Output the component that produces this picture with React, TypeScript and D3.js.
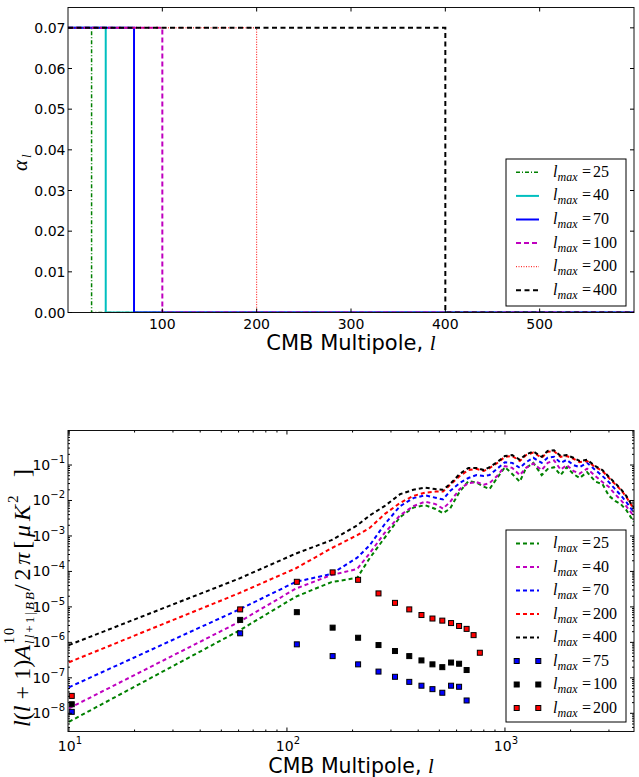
import React from "react";
import * as d3 from "d3";

// ---------- top panel data ----------
const TOP_LMAX = [25, 40, 70, 100, 200, 400];
const TOP_ALPHA = 0.07;
const TOP_L_END = 600;
const TOP_X_TICKS = [100, 200, 300, 400, 500];
const TOP_Y_TICKS = [0, 0.01, 0.02, 0.03, 0.04, 0.05, 0.06, 0.07];

// ---------- bottom panel data ----------
const ELL = [10, 60, 110, 160, 210, 240, 280, 330, 380, 430, 480, 520, 560, 620, 680, 740, 800, 850, 920, 1000, 1080, 1170, 1250, 1350, 1474, 1570, 1680, 1800, 1920, 2060, 2200, 2380, 2600, 2800, 3000, 3200, 3400, 3600, 3800, 3900];
const CURVE_LMAX = [25, 40, 70, 200, 400];
const C25 = [5.75e-9, 2.1e-6, 1.95e-5, 5.0e-5, 6.6e-5, 2.4e-4, 8.7e-4, 3.4e-3, 6.3e-3, 7.4e-3, 5.75e-3, 4.4e-3, 5.9e-3, 1.78e-2, 3.5e-2, 3.2e-2, 2.45e-2, 2.1e-2, 4.3e-2, 8.7e-2, 5.6e-2, 3.4e-2, 8.3e-2, 0.115, 5.2e-2, 7.7e-2, 8.7e-2, 5.2e-2, 8.7e-2, 5.6e-2, 4.3e-2, 6.3e-2, 3.4e-2, 2.9e-2, 1.35e-2, 9.8e-3, 7.9e-3, 5.4e-3, 3.2e-3, 2.5e-3];
const C40 = [1.38e-8, 3.7e-6, 3.3e-5, 7.9e-5, 1.17e-4, 3.3e-4, 1.2e-3, 3.8e-3, 6.9e-3, 9.3e-3, 7.9e-3, 5.9e-3, 9.1e-3, 2.1e-2, 3.1e-2, 3.3e-2, 2.8e-2, 3.1e-2, 4.9e-2, 9.3e-2, 8.3e-2, 5.2e-2, 8.3e-2, 0.11, 7.2e-2, 0.115, 0.135, 7.4e-2, 0.10, 6.8e-2, 5.75e-2, 7.9e-2, 4.9e-2, 3.3e-2, 2.4e-2, 1.5e-2, 1.02e-2, 6.9e-3, 4.5e-3, 3.6e-3];
const C70 = [5.4e-8, 8.3e-6, 5.1e-5, 8.5e-5, 2.45e-4, 5.5e-4, 2.1e-3, 6.9e-3, 1.17e-2, 1.4e-2, 1.2e-2, 1.07e-2, 1.86e-2, 3.1e-2, 4.3e-2, 5.2e-2, 4.9e-2, 5.2e-2, 7.8e-2, 0.12, 0.115, 8.3e-2, 0.12, 0.16, 0.115, 0.16, 0.17, 0.115, 0.14, 0.10, 8.7e-2, 0.115, 7.2e-2, 4.9e-2, 3.3e-2, 2.1e-2, 1.4e-2, 9.1e-3, 5.75e-3, 4.7e-3];
const C200 = [2.75e-7, 2.4e-5, 1.23e-4, 4.5e-4, 1.05e-3, 1.7e-3, 4.1e-3, 8.5e-3, 1.35e-2, 1.66e-2, 1.78e-2, 1.78e-2, 2.75e-2, 4.9e-2, 7.2e-2, 7.8e-2, 6.8e-2, 8.2e-2, 0.113, 0.17, 0.18, 0.13, 0.19, 0.225, 0.16, 0.235, 0.245, 0.17, 0.18, 0.15, 0.12, 0.13, 8.7e-2, 6.8e-2, 4.3e-2, 2.9e-2, 2.0e-2, 1.27e-2, 7.4e-3, 5.9e-3];
const C400 = [8.4e-7, 6.2e-5, 3.2e-4, 7.6e-4, 2.0e-3, 3.8e-3, 6.9e-3, 1.5e-2, 2.0e-2, 2.3e-2, 2.1e-2, 2.0e-2, 2.9e-2, 5.6e-2, 8.3e-2, 8.3e-2, 7.2e-2, 8.7e-2, 0.12, 0.18, 0.19, 0.14, 0.20, 0.24, 0.17, 0.25, 0.26, 0.18, 0.19, 0.16, 0.13, 0.14, 9.3e-2, 7.2e-2, 4.6e-2, 3.1e-2, 2.1e-2, 1.35e-2, 7.9e-3, 6.3e-3];

const SC_L = [10.3, 61, 111, 162, 212, 263, 313, 364, 414, 465, 516, 566, 616, 667, 718, 767];
const SC_LMAX = [75, 100, 200];
const SC75 = [1.1e-8, 1.8e-6, 8.8e-7, 4.1e-7, 2.4e-7, 1.5e-7, 1.07e-7, 7.7e-8, 6.0e-8, 4.8e-8, 3.8e-8, 6.0e-8, 5.6e-8, 2.3e-8];
const SC100 = [1.8e-8, 4.3e-6, 7.1e-6, 2.6e-6, 1.35e-6, 8.4e-7, 5.7e-7, 4.1e-7, 3.1e-7, 2.4e-7, 2.0e-7, 2.7e-7, 2.5e-7, 1.66e-7];
const SC200 = [3.1e-8, 8.5e-6, 5.1e-5, 9.4e-5, 5.8e-5, 2.4e-5, 1.3e-5, 8.5e-6, 5.9e-6, 4.7e-6, 4.1e-6, 3.5e-6, 2.9e-6, 2.4e-6, 1.6e-6, 5.1e-7];

const BOT_X_MAJOR = [10, 100, 1000];
const BOT_Y_MAJOR = [1e-8, 1e-7, 1e-6, 1e-5, 1e-4, 1e-3, 1e-2, 1e-1];

const SANS = "'DejaVu Sans', sans-serif";
const SERIF = "'Liberation Serif', 'DejaVu Serif', serif";

function LmaxLabel({ x, y, value }: { x: number; y: number; value: number }) {
  return (
    <text x={x} y={y} fontFamily={SERIF} fontSize={16} fill="#000">
      <tspan fontStyle="italic">l</tspan>
      <tspan fontStyle="italic" fontSize={12} dy={4} x={x + 4.5}>max</tspan>
      <tspan dy={-4} x={x + 29}>=</tspan>
      <tspan x={x + 40}>{value}</tspan>
    </text>
  );
}

function supExp(v: number) {
  const e = Math.round(Math.log10(v));
  return e < 0 ? "\u2212" + Math.abs(e) : String(e);
}

export default function App() {
  // ---------- top panel ----------
  const tL = 68, tR = 634, tT = 7.5, tB = 312.5;
  const xT = d3.scaleLinear().domain([0, TOP_L_END]).range([tL, tR]);
  const yT = d3.scaleLinear().domain([0, 0.075]).range([tB, tT]);
  const lineT = d3.line<[number, number]>().x(d => xT(d[0])).y(d => yT(d[1]));
  const topStyles: Record<number, { c: string; w: number; dash?: string }> = {
    25: { c: "#008000", w: 1.5, dash: "4,2,1,2" },
    40: { c: "#00bfbf", w: 2 },
    70: { c: "#0000ff", w: 2 },
    100: { c: "#bf00bf", w: 2, dash: "5,3" },
    200: { c: "#ff0000", w: 1, dash: "1,1.5" },
    400: { c: "#000000", w: 2, dash: "5,3.5" },
  };

  // ---------- bottom panel ----------
  const bL = 68, bR = 634, bT = 430.5, bB = 731.5;
  const xB = d3.scaleLog().domain([9.9, 3908]).range([bL, bR]);
  const yB = d3.scaleLog().domain([3.07e-9, 0.94]).range([bB, bT]);
  const curves = [C25, C40, C70, C200, C400];
  const curveColors = ["#008000", "#bf00bf", "#0000ff", "#ff0000", "#000000"];
  const lineB = d3.line<[number, number]>().x(d => xB(d[0])).y(d => yB(d[1]));
  const scat = [SC75, SC100, SC200];
  const scatColors = ["#0000ff", "#000000", "#ff0000"];

  const xMinor: number[] = [];
  [10, 100, 1000].forEach(b => { for (let k = 2; k <= 9; k++) { const v = b * k; if (v <= 3908) xMinor.push(v); } });
  const yMinor: number[] = [];
  for (let e = -9; e <= -1; e++) for (let k = 2; k <= 9; k++) { const v = k * Math.pow(10, e); if (v >= 3.07e-9 && v <= 0.94) yMinor.push(v); }

  const topRows = [172.3, 195.9, 219.5, 243.1, 266.7, 290.3];
  const botRows = [543.5, 567, 590.5, 614, 637.5, 661, 684.5, 708];

  return (
    <svg width={639} height={777} style={{ position: "absolute", left: 0, top: 0, background: "#fff" }}>
      <defs>
        <clipPath id="clipTop"><rect x={tL} y={tT} width={tR - tL} height={tB - tT} /></clipPath>
        <clipPath id="clipBot"><rect x={bL} y={bT} width={bR - bL} height={bB - bT} /></clipPath>
      </defs>
      <rect x={0} y={0} width={639} height={777} fill="#fff" />

      {/* ================= TOP PANEL ================= */}
      <g clipPath="url(#clipTop)">
        {TOP_LMAX.map(lm => {
          const s = topStyles[lm];
          const pts: [number, number][] = [[0, TOP_ALPHA], [lm, TOP_ALPHA], [lm, 0], [TOP_L_END, 0]];
          return <path key={lm} d={lineT(pts) || ""} fill="none" stroke={s.c} strokeWidth={s.w} strokeDasharray={s.dash} />;
        })}
      </g>
      <rect x={tL} y={tT} width={tR - tL} height={tB - tT} fill="none" stroke="#111" strokeWidth={1} />
      {TOP_X_TICKS.map(t => (
        <g key={t}>
          <line x1={xT(t)} x2={xT(t)} y1={tB} y2={tB - 4} stroke="#000" />
          <line x1={xT(t)} x2={xT(t)} y1={tT} y2={tT + 4} stroke="#000" />
          <text x={xT(t)} y={329} textAnchor="middle" fontFamily={SANS} fontSize={14}>{t}</text>
        </g>
      ))}
      {TOP_Y_TICKS.map(t => (
        <g key={t}>
          <line x1={tL} x2={tL + 4} y1={yT(t)} y2={yT(t)} stroke="#000" />
          <line x1={tR} x2={tR - 4} y1={yT(t)} y2={yT(t)} stroke="#000" />
          <text x={65.5} y={yT(t) + 5} textAnchor="end" fontFamily={SANS} fontSize={14}>{t.toFixed(2)}</text>
        </g>
      ))}
      <text x={351} y={350} textAnchor="middle" fontFamily={SANS} fontSize={21}>
        CMB Multipole, <tspan fontFamily={SERIF} fontStyle="italic">l</tspan>
      </text>
      <g transform="translate(27,171) rotate(-90)">
        <text x={0} y={0} fontFamily={SERIF} fontStyle="italic" fontSize={21}>α</text>
        <text x={13} y={4} fontFamily={SERIF} fontStyle="italic" fontSize={13}>l</text>
      </g>
      {/* top legend */}
      <rect x={506} y={159} width={120} height={147} fill="#fff" stroke="#000" strokeWidth={1} />
      {TOP_LMAX.map((lm, i) => {
        const s = topStyles[lm];
        return (
          <g key={lm}>
            <line x1={516} x2={539} y1={topRows[i]} y2={topRows[i]} stroke={s.c} strokeWidth={s.w} strokeDasharray={s.dash} />
            <LmaxLabel x={553} y={topRows[i] + 4.5} value={lm} />
          </g>
        );
      })}

      {/* ================= BOTTOM PANEL ================= */}
      <g clipPath="url(#clipBot)">
        {curves.map((c, i) => (
          <path key={i} d={lineB(ELL.map((l, j) => [l, c[j]] as [number, number])) || ""} fill="none" stroke={curveColors[i]} strokeWidth={2} strokeDasharray="4,3" />
        ))}
      </g>
      {scat.map((s, i) => (
        <g key={i}>
          {s.map((v, j) => (
            <rect key={j} x={xB(SC_L[j]) - 2.5} y={yB(v) - 2.5} width={5} height={5} fill={scatColors[i]} stroke="#000" strokeWidth={1} />
          ))}
        </g>
      ))}
      <rect x={bL} y={bT} width={bR - bL} height={bB - bT} fill="none" stroke="#111" strokeWidth={1} />
      {xMinor.map(t => (
        <g key={"xm" + t}>
          <line x1={xB(t)} x2={xB(t)} y1={bB} y2={bB - 2} stroke="#000" />
          <line x1={xB(t)} x2={xB(t)} y1={bT} y2={bT + 2} stroke="#000" />
        </g>
      ))}
      {BOT_X_MAJOR.map(t => (
        <g key={"xM" + t}>
          <line x1={xB(t)} x2={xB(t)} y1={bB} y2={bB - 4} stroke="#000" />
          <line x1={xB(t)} x2={xB(t)} y1={bT} y2={bT + 4} stroke="#000" />
          <text x={xB(t) + 1} y={750.5} textAnchor="middle" fontFamily={SANS} fontSize={14}>
            10<tspan dy={-7} fontSize={10}>{supExp(t)}</tspan>
          </text>
        </g>
      ))}
      {yMinor.map(t => (
        <g key={"ym" + t}>
          <line x1={bL} x2={bL + 2} y1={yB(t)} y2={yB(t)} stroke="#000" />
          <line x1={bR} x2={bR - 2} y1={yB(t)} y2={yB(t)} stroke="#000" />
        </g>
      ))}
      {BOT_Y_MAJOR.map(t => (
        <g key={"yM" + t}>
          <line x1={bL} x2={bL + 4} y1={yB(t)} y2={yB(t)} stroke="#000" />
          <line x1={bR} x2={bR - 4} y1={yB(t)} y2={yB(t)} stroke="#000" />
          <text x={65} y={yB(t) + 5} textAnchor="end" fontFamily={SANS} fontSize={14}>
            10<tspan dy={-7} fontSize={10}>{supExp(t)}</tspan>
          </text>
        </g>
      ))}
      <text x={351} y={772.5} textAnchor="middle" fontFamily={SANS} fontSize={20.5}>
        CMB Multipole, <tspan fontFamily={SERIF} fontStyle="italic">l</tspan>
      </text>
      {/* bottom y label */}
      <g transform="translate(29.5,727) rotate(-90)" fontFamily={SERIF} fill="#000">
        <text x={0} y={0} fontSize={24} textLength={82} lengthAdjust="spacing">
          <tspan fontStyle="italic">l</tspan>(<tspan fontStyle="italic">l</tspan> + 1)<tspan fontStyle="italic">A</tspan>
        </text>
        <text x={83} y={-16} fontSize={14} textLength={16} lengthAdjust="spacing">10</text>
        <text x={83} y={4} fontSize={13} textLength={52} lengthAdjust="spacing">
          <tspan fontStyle="italic">ll</tspan>+1|<tspan fontStyle="italic">BB</tspan>
        </text>
        <text x={136} y={0} fontSize={24} textLength={86} lengthAdjust="spacing">
          /2<tspan fontStyle="italic">π</tspan>[<tspan fontStyle="italic">μK</tspan>
        </text>
        <text x={224} y={-12} fontSize={15}>2</text>
        <text x={250} y={0} fontSize={24}>]</text>
      </g>
      {/* bottom legend */}
      <rect x={506} y={530} width={120} height={192} fill="#fff" stroke="#000" strokeWidth={1} />
      {CURVE_LMAX.map((lm, i) => (
        <g key={"cl" + lm}>
          <line x1={516} x2={539} y1={botRows[i]} y2={botRows[i]} stroke={curveColors[i]} strokeWidth={2} strokeDasharray="4,3" />
          <LmaxLabel x={553} y={botRows[i] + 4.5} value={lm} />
        </g>
      ))}
      {SC_LMAX.map((lm, i) => {
        const y = botRows[5 + i];
        return (
          <g key={"sl" + lm}>
            <rect x={516.7 - 2.5} y={y - 2.5} width={5} height={5} fill={scatColors[i]} stroke="#000" strokeWidth={1} />
            <rect x={538.3 - 2.5} y={y - 2.5} width={5} height={5} fill={scatColors[i]} stroke="#000" strokeWidth={1} />
            <LmaxLabel x={553} y={y + 4.5} value={lm} />
          </g>
        );
      })}
    </svg>
  );
}
